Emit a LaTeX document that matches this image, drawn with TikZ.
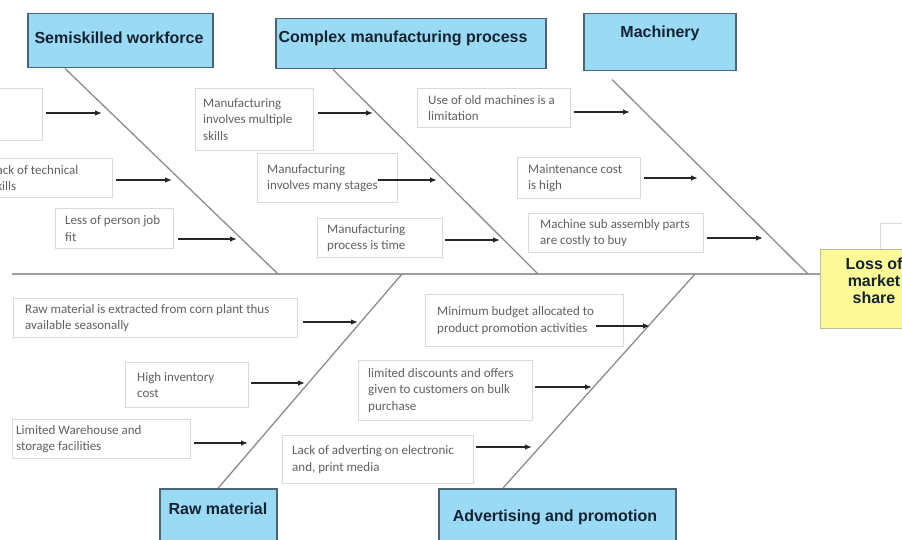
\documentclass[tikz,border=0pt]{standalone}
\usepackage{fontspec}
\setmainfont{Carlito}
\newfontfamily\tfont{Liberation Sans}
\usetikzlibrary{arrows.meta,calc}
\definecolor{tblue}{RGB}{155,218,245}
\definecolor{tedge}{RGB}{75,100,120}
\definecolor{tyel}{RGB}{252,250,150}
\definecolor{tyedge}{RGB}{190,190,150}
\definecolor{ttxt}{RGB}{20,35,50}
\begin{document}
\begin{tikzpicture}[x=1pt,y=-1pt,
 tbox/.style={draw=tedge, fill=tblue, line width=1.5pt, inner sep=0pt, anchor=north west},
 ybox/.style={draw=tyedge, fill=tyel, line width=1.2pt, inner sep=0pt, anchor=north west},
 ttext/.style={font=\tfont\bfseries\fontsize{16}{17}\selectfont, text=ttxt, inner sep=0pt, text height=12pt, text depth=3.5pt},
 ytext/.style={font=\tfont\bfseries\fontsize{16}{17}\selectfont, text=ttxt, inner sep=0pt, align=center},
 cbox/.style={draw=black!15, fill=white, line width=0.8pt, inner sep=0pt, anchor=north west},
 ctext/.style={font=\fontsize{13}{16.5}\selectfont, text=black!62, inner sep=0pt, align=left, anchor=west},
 bone/.style={draw=black!45, line width=1.3pt},
 spine/.style={draw=black!38, line width=2.2pt},
 arr/.style={draw=black!85, line width=1.3pt, -{Latex[length=7pt,width=5.5pt]}}]
\useasboundingbox (0,0) rectangle (902,540);
\clip (0,0) rectangle (902,540);

% title boxes
\node[tbox, minimum width=185pt, minimum height=54pt] (T1) at (27,13) {};
\node[tbox, minimum width=270pt, minimum height=50pt] (T2) at (275,18) {};
\node[tbox, minimum width=152pt, minimum height=57pt] (T3) at (583,13) {};
\node[tbox, minimum width=117pt, minimum height=70pt] (RM) at (159,488) {};
\node[tbox, minimum width=237pt, minimum height=70pt] (AD) at (438,488) {};
\node[cbox, minimum width=40pt, minimum height=30pt] (HB) at (880,223) {};
\node[ybox, minimum width=110pt, minimum height=79pt] (LM) at (820,249) {};

\node[ttext] (T1t) at (119,39) {Semiskilled workforce};
\node[ttext] (T2t) at (403,38) {Complex manufacturing process};
\node[ttext] (T3t) at (660,33) {Machinery};
\node[ttext] (RMt) at (218,510) {Raw material};
\node[ttext] (ADt) at (555,517) {Advertising and promotion};
\node[ytext] (LMt) at (874,281) {Loss of\\market\\share};

% spine and bones
\coordinate (spL) at (12,274);
\coordinate (j1) at (278,274);
\coordinate (j2) at (538,274);
\coordinate (j3) at (808,274);
\coordinate (j4) at (402,274);
\coordinate (j5) at (695,274);
\draw[spine] (spL) -- (LM.west |- spL);
\draw[bone] ($(T1.south west)+(38,0)$) -- (j1);
\draw[bone] ($(T2.south west)+(58,0)$) -- (j2);
\draw[bone] ($(T3.south west)+(29,8)$) -- (j3);
\draw[bone] (RM.north) -- (j4);
\draw[bone] ($(AD.north west)+(65,0)$) -- (j5);

% cause boxes
\node[cbox, minimum width=102pt, minimum height=52pt] (A) at (-60,88) {};
\node[cbox, minimum width=172pt, minimum height=39pt] (B) at (-60,158) {};
\node[cbox, minimum width=118pt, minimum height=40pt] (C) at (55,208) {};
\node[cbox, minimum width=118pt, minimum height=62pt] (D) at (195,88) {};
\node[cbox, minimum width=140pt, minimum height=49pt] (E) at (257,153) {};
\node[cbox, minimum width=125pt, minimum height=39pt] (F) at (317,218) {};
\node[cbox, minimum width=153pt, minimum height=39pt] (G) at (417,88) {};
\node[cbox, minimum width=123pt, minimum height=41pt] (H) at (517,157) {};
\node[cbox, minimum width=175pt, minimum height=39pt] (I) at (528,213) {};
\node[cbox, minimum width=284pt, minimum height=39pt] (J) at (13,298) {};
\node[cbox, minimum width=123pt, minimum height=45pt] (K) at (125,362) {};
\node[cbox, minimum width=178pt, minimum height=39pt] (L) at (12,419) {};
\node[cbox, minimum width=198pt, minimum height=52pt] (M) at (425,294) {};
\node[cbox, minimum width=174pt, minimum height=60pt] (N) at (358,360) {};
\node[cbox, minimum width=191pt, minimum height=48pt] (O) at (282,435) {};

\node[ctext] (Bt) at ($(B.west)+(51,0)$) {Lack of technical\\skills};
\node[ctext] (Ct) at ($(C.west)+(10,0)$) {Less of person job\\fit};
\node[ctext] (Dt) at ($(D.west)+(8,0)$) {Manufacturing\\involves multiple\\skills};
\node[ctext] (Et) at ($(E.west)+(10,0)$) {Manufacturing\\involves many stages};
\node[ctext] (Ft) at ($(F.west)+(10,0)$) {Manufacturing\\process is time};
\node[ctext] (Gt) at ($(G.west)+(11,0)$) {Use of old machines is a\\limitation};
\node[ctext] (Ht) at ($(H.west)+(11,0)$) {Maintenance cost\\is high};
\node[ctext] (It) at ($(I.west)+(12,0)$) {Machine sub assembly parts\\are costly to buy};
\node[ctext] (Jt) at ($(J.west)+(12,0)$) {Raw material is extracted from corn plant thus\\available seasonally};
\node[ctext] (Kt) at ($(K.west)+(12,0)$) {High inventory\\cost};
\node[ctext] (Lt) at ($(L.west)+(4,0)$) {Limited Warehouse and\\storage facilities};
\node[ctext] (Mt) at ($(M.west)+(12,0)$) {Minimum budget allocated to\\product promotion activities};
\node[ctext] (Nt) at ($(N.west)+(10,0)$) {limited discounts and offers\\given to customers on bulk\\purchase};
\node[ctext] (Ot) at ($(O.west)+(10,0)$) {Lack of adverting on electronic\\and, print media};

% arrows
\coordinate (tA) at (102,113);
\coordinate (tB) at (172,180);
\coordinate (tC) at (237,239);
\coordinate (tD) at (373,113);
\coordinate (tE) at (437,180);
\coordinate (tF) at (500,240);
\coordinate (tG) at (630,112);
\coordinate (tH) at (698,178);
\coordinate (tI) at (763,238);
\coordinate (tJ) at (358,322);
\coordinate (tK) at (305,383);
\coordinate (tL) at (248,443);
\coordinate (tM) at (650,326);
\coordinate (tN) at (592,387);
\coordinate (tO) at (532,447);
\draw[arr] ($(A.east |- tA)+(3,0)$) -- (tA);
\draw[arr] ($(B.east |- tB)+(3,0)$) -- (tB);
\draw[arr] ($(C.east |- tC)+(4,0)$) -- (tC);
\draw[arr] ($(D.east |- tD)+(4,0)$) -- (tD);
\draw[arr] ($(E.east |- tE)+(-20,0)$) -- (tE);
\draw[arr] ($(F.east |- tF)+(2,0)$) -- (tF);
\draw[arr] ($(G.east |- tG)+(3,0)$) -- (tG);
\draw[arr] ($(H.east |- tH)+(3,0)$) -- (tH);
\draw[arr] ($(I.east |- tI)+(3,0)$) -- (tI);
\draw[arr] ($(J.east |- tJ)+(5,0)$) -- (tJ);
\draw[arr] ($(K.east |- tK)+(2,0)$) -- (tK);
\draw[arr] ($(L.east |- tL)+(3,0)$) -- (tL);
\draw[arr] ($(M.east |- tM)+(-28,0)$) -- (tM);
\draw[arr] ($(N.east |- tN)+(2,0)$) -- (tN);
\draw[arr] ($(O.east |- tO)+(2,0)$) -- (tO);
\end{tikzpicture}
\end{document}
